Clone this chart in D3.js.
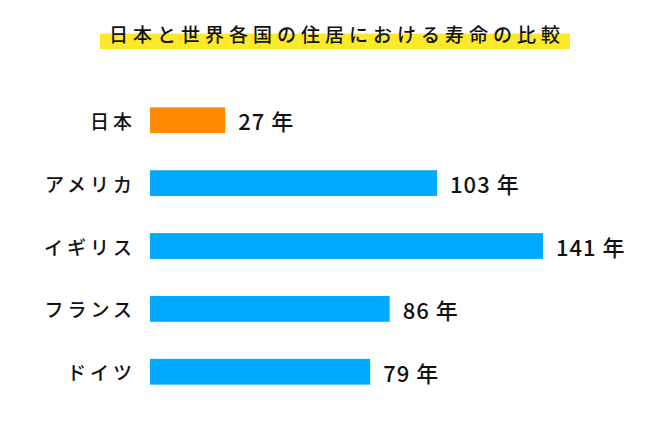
<!DOCTYPE html>
<html lang="ja">

<head>
    <meta charset="UTF-8">
    <title>住居の寿命</title>
    <script src="https://d3js.org/d3.v7.min.js"></script>
    <style>
        body { margin: 0; background: #fff; }
        text { font-family: "Noto Sans CJK JP", sans-serif; fill: #111; }
    </style>
</head>

<body>
    <script>
        var width = 670, height = 440;

        // data
        var countries = ['日本', 'アメリカ', 'イギリス', 'フランス', 'ドイツ'];
        var years = [27, 103, 141, 86, 79];
        var barColors = ['#ff8a00', '#00aaff', '#00aaff', '#00aaff', '#00aaff'];
        var titleText = '日本と世界各国の住居における寿命の比較';
        var unit = '年';

        var svg = d3.select('body').append('svg')
            .attr('width', width).attr('height', height);

        // title with yellow marker
        svg.append('rect')
            .attr('x', 100).attr('y', 33.5)
            .attr('width', 470).attr('height', 15.5)
            .attr('fill', '#fbe92a');
        svg.append('text')
            .attr('x', 337).attr('y', 33)
            .attr('text-anchor', 'middle')
            .attr('dominant-baseline', 'central')
            .style('font-size', '19px')
            .style('font-weight', 500)
            .style('letter-spacing', '5px')
            .text(titleText);

        var x = d3.scaleLinear().domain([0, 141]).range([150, 543]);
        var y = d3.scaleBand().domain(countries).range([88.5, 403.5])
            .paddingInner(0.59).paddingOuter(0.3);

        var rows = svg.selectAll('g.row').data(countries)
            .join('g').attr('class', 'row');

        rows.append('rect')
            .attr('x', x(0))
            .attr('y', function (d) { return y(d); })
            .attr('width', function (d, i) { return x(years[i]) - x(0); })
            .attr('height', y.bandwidth())
            .attr('fill', function (d, i) { return barColors[i]; });

        // country names
        rows.append('text')
            .attr('x', 136)
            .attr('y', function (d) { return y(d) + y.bandwidth() / 2; })
            .attr('text-anchor', 'end')
            .attr('dominant-baseline', 'central')
            .style('font-size', '19px')
            .style('font-weight', 500)
            .style('letter-spacing', '4px')
            .text(function (d) { return d; });

        // value labels
        rows.append('text')
            .attr('x', function (d, i) { return x(years[i]) + 13; })
            .attr('y', function (d) { return y(d) + y.bandwidth() / 2; })
            .attr('dominant-baseline', 'central')
            .style('font-size', '22px')
            .style('font-weight', 500)
            .style('letter-spacing', '1px')
            .text(function (d, i) { return years[i] + ' ' + unit; });
    </script>
</body>

</html>
